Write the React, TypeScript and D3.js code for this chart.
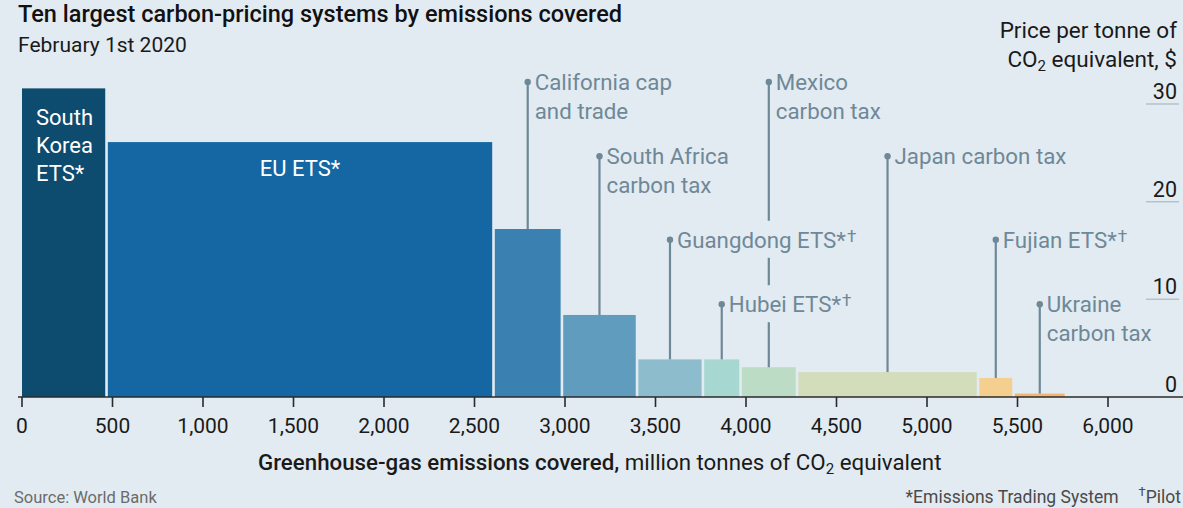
import React, { useEffect, useRef } from 'react';
import * as d3 from 'd3';

// ---- Data ----
const systems = [
  'South Korea ETS*',
  'EU ETS*',
  'California cap and trade',
  'South Africa carbon tax',
  'Guangdong ETS*†',
  'Hubei ETS*†',
  'Mexico carbon tax',
  'Japan carbon tax',
  'Fujian ETS*†',
  'Ukraine carbon tax',
];
// emissions covered, million tonnes CO2e (bar widths)
const emissions = [467, 2138, 378, 415, 364, 208, 312, 1000, 196, 290];
// price per tonne, $ (bar heights)
const prices = [31.6, 26.1, 17.2, 8.4, 3.85, 3.85, 3.05, 2.55, 1.95, 0.35];
const xTickValues = [0, 500, 1000, 1500, 2000, 2500, 3000, 3500, 4000, 4500, 5000, 5500, 6000];
const yTickValues = [0, 10, 20, 30];

// label text lines per system
const labelLines: string[][] = [
  ['South', 'Korea', 'ETS*'],
  ['EU ETS*'],
  ['California cap', 'and trade'],
  ['South Africa', 'carbon tax'],
  ['Guangdong ETS*†'],
  ['Hubei ETS*†'],
  ['Mexico', 'carbon tax'],
  ['Japan carbon tax'],
  ['Fujian ETS*†'],
  ['Ukraine', 'carbon tax'],
];
// annotation level (in price units) for leader-line labels; null = label inside bar
const labelLevel: (number | null)[] = [null, null, 32.25, 24.65, 16.1, 9.5, 32.25, 24.65, 16.1, 9.5];

const colors = [
  '#0d4b6f', '#1467a2', '#3a80b1', '#5f9cbe', '#8dbccd',
  '#a6d7d1', '#bcdcc5', '#d3dcbb', '#f4cf90', '#f1b673',
];

const W = 1183;
const H = 508;
const BG = '#e2ebf1';
const FONT = 'Roboto, "Open Sans", sans-serif';
const ANN = '#6f8898';

export default function App() {
  const ref = useRef<SVGSVGElement | null>(null);

  useEffect(() => {
    document.body.style.margin = '0';
    const svg = d3.select(ref.current);
    svg.selectAll('*').remove();

    const x = d3.scaleLinear().domain([0, 6000]).range([22, 1108]);
    const y = d3.scaleLinear().domain([0, 30]).range([397, 104]);

    svg.append('rect').attr('width', W).attr('height', H).attr('fill', BG);

    // cumulative positions
    const starts: number[] = [];
    let acc = 0;
    emissions.forEach((e) => { starts.push(acc); acc += e; });

    const bars = systems.map((s, i) => ({
      name: s, x0: starts[i], x1: starts[i] + emissions[i], price: prices[i], i,
    }));

    const gap = 1.3;
    svg.append('g').selectAll('rect').data(bars).join('rect')
      .attr('x', (d) => x(d.x0) + (d.i === 0 ? 0 : gap))
      .attr('width', (d) => x(d.x1) - x(d.x0) - (d.i === 0 ? gap : 2 * gap))
      .attr('y', (d) => y(d.price))
      .attr('height', (d) => y(0) - y(d.price))
      .attr('fill', (d) => colors[d.i]);

    // leader lines
    const annBars = bars.filter((d) => labelLevel[d.i] !== null);
    const lg = svg.append('g');
    annBars.forEach((d) => {
      const cx = (x(d.x0) + x(d.x1)) / 2;
      const ly = y(labelLevel[d.i] as number);
      lg.append('line')
        .attr('x1', cx).attr('x2', cx)
        .attr('y1', ly).attr('y2', y(d.price))
        .attr('stroke', ANN).attr('stroke-width', 2.2);
      lg.append('circle').attr('cx', cx).attr('cy', ly).attr('r', 3.2).attr('fill', ANN);
    });

    const addLine = (t: any, line: string, lx: number, dy: number, first: boolean) => {
      const hasDagger = line.endsWith('†');
      const main = hasDagger ? line.slice(0, -1) : line;
      t.append('tspan').attr('x', lx).attr('dy', first ? 0 : dy).text(main);
      if (hasDagger) {
        t.append('tspan').attr('dx', 1).attr('dy', -6).attr('font-size', 17).text('†');
        t.append('tspan').attr('dy', 6).text('');
      }
    };

    // annotation labels with background masks
    annBars.forEach((d) => {
      const cx = (x(d.x0) + x(d.x1)) / 2;
      const ly = y(labelLevel[d.i] as number);
      const g = svg.append('g');
      const lx = cx + 7;
      const t = g.append('text')
        .attr('x', lx).attr('y', ly + 8)
        .attr('font-family', FONT).attr('font-size', 22.3)
        .attr('fill', ANN);
      labelLines[d.i].forEach((line, k) => addLine(t, line, lx, 28.5, k === 0));
      const node = t.node() as SVGTextElement;
      const bb = node.getBBox();
      g.insert('rect', 'text')
        .attr('x', bb.x - 2).attr('y', bb.y - 5)
        .attr('width', bb.width + 4).attr('height', bb.height + 10)
        .attr('fill', BG);
    });

    // labels inside bars
    const sk = bars[0];
    const tSK = svg.append('text').attr('font-family', FONT).attr('font-size', 22).attr('fill', '#ffffff')
      .attr('x', x(sk.x0) + 14).attr('y', 125);
    labelLines[0].forEach((line, k) => tSK.append('tspan').attr('x', x(sk.x0) + 14).attr('dy', k === 0 ? 0 : 28).text(line));
    const eu = bars[1];
    svg.append('text').attr('font-family', FONT).attr('font-size', 22).attr('fill', '#ffffff')
      .attr('x', (x(eu.x0) + x(eu.x1)) / 2).attr('y', 176).attr('text-anchor', 'middle')
      .text(labelLines[1][0]);

    // y axis (right)
    const yg = svg.append('g');
    yTickValues.forEach((v) => {
      if (v !== 0) {
        yg.append('line').attr('x1', 1146).attr('x2', 1179).attr('y1', y(v)).attr('y2', y(v))
          .attr('stroke', '#b3c2cc').attr('stroke-width', 1.5);
      }
      yg.append('text').attr('x', 1177).attr('y', y(v) - 5).attr('text-anchor', 'end')
        .attr('font-family', FONT).attr('font-size', 21.5).attr('fill', '#1a1a1a').text(String(v));
    });

    // x axis
    const xg = svg.append('g');
    xg.append('line').attr('x1', 18).attr('x2', W).attr('y1', y(0)).attr('y2', y(0))
      .attr('stroke', '#2a2a2a').attr('stroke-width', 1.6);
    xTickValues.forEach((v) => {
      xg.append('line').attr('x1', x(v)).attr('x2', x(v)).attr('y1', y(0)).attr('y2', y(0) + 10)
        .attr('stroke', '#2a2a2a').attr('stroke-width', 1.6);
      xg.append('text').attr('x', x(v)).attr('y', 433).attr('text-anchor', 'middle')
        .attr('font-family', FONT).attr('font-size', 21).attr('fill', '#1a1a1a')
        .text(d3.format(',')(v));
    });

    // x axis title
    const xt = svg.append('text').attr('x', 258).attr('y', 470)
      .attr('font-family', FONT).attr('font-size', 22.3).attr('fill', '#1a1a1a');
    xt.append('tspan').attr('font-weight', 500).text('Greenhouse-gas emissions covered,');
    xt.append('tspan').text(' million tonnes of CO');
    xt.append('tspan').attr('font-size', 15).attr('dy', 4).text('2');
    xt.append('tspan').attr('dy', -4).text(' equivalent');

    // y axis title
    const yt = svg.append('text').attr('x', 1177).attr('y', 38).attr('text-anchor', 'end')
      .attr('font-family', FONT).attr('font-size', 22.5).attr('fill', '#1a1a1a');
    yt.append('tspan').attr('x', 1177).text('Price per tonne of');
    const yt2 = svg.append('text').attr('x', 1177).attr('y', 67).attr('text-anchor', 'end')
      .attr('font-family', FONT).attr('font-size', 22.5).attr('fill', '#1a1a1a');
    yt2.append('tspan').text('CO');
    yt2.append('tspan').attr('font-size', 15).attr('dy', 4).text('2');
    yt2.append('tspan').attr('dy', -4).text(' equivalent, $');

    // title & subtitle
    svg.append('text').attr('x', 18).attr('y', 22)
      .attr('font-family', FONT).attr('font-size', 23.5).attr('font-weight', 500).attr('fill', '#111')
      .text('Ten largest carbon-pricing systems by emissions covered');
    svg.append('text').attr('x', 18).attr('y', 52)
      .attr('font-family', FONT).attr('font-size', 21).attr('fill', '#1a1a1a')
      .text('February 1st 2020');

    // footer
    svg.append('text').attr('x', 14).attr('y', 503)
      .attr('font-family', FONT).attr('font-size', 16.5).attr('fill', '#6b6b6b')
      .text('Source: World Bank');
    const ft = svg.append('text').attr('x', 1181).attr('y', 503).attr('text-anchor', 'end')
      .attr('font-family', FONT).attr('font-size', 17.5).attr('fill', '#4a4a4a');
    ft.append('tspan').text('*Emissions Trading System');
    ft.append('tspan').attr('dx', 20).attr('font-size', 13).attr('dy', -7).text('†');
    ft.append('tspan').attr('dy', 7).text('Pilot');
  }, []);

  return (
    <svg ref={ref} width={W} height={H} style={{ position: 'absolute', left: 0, top: 0, display: 'block' }} />
  );
}
